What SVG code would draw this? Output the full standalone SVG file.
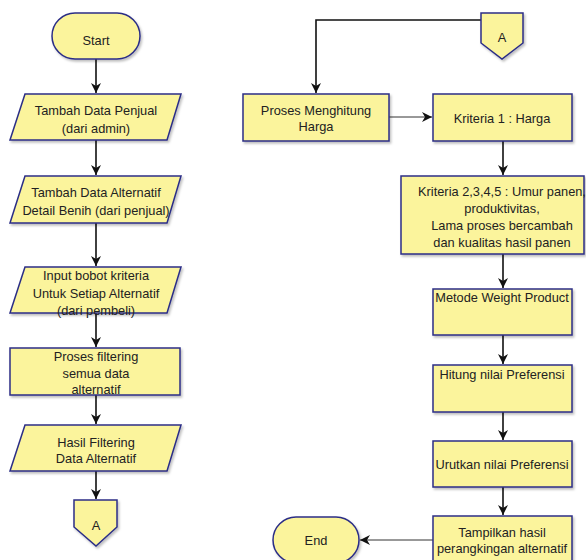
<svg xmlns="http://www.w3.org/2000/svg" width="586" height="560" viewBox="0 0 586 560">
<style>
.n{fill:#FBF49C;stroke:#2B2D86;stroke-width:1.5;filter:url(#sh)}
.t{font-family:"Liberation Sans",Arial,sans-serif;font-size:12.8px;fill:#222;text-anchor:middle}
.c{fill:none;stroke:#111;stroke-width:1.6}
.c2{fill:none;stroke:#333;stroke-width:1}
</style>
<defs>
<filter id="sh" x="-10%" y="-10%" width="130%" height="140%">
<feDropShadow dx="1.5" dy="2" stdDeviation="1.2" flood-color="#000" flood-opacity="0.25"/>
</filter>
<marker id="ah" viewBox="0 0 10 10" refX="10" refY="5" markerWidth="10" markerHeight="10" markerUnits="userSpaceOnUse" orient="auto">
<path d="M0,0 L10,5 L0,10 L3,5 z" fill="#111"/>
</marker>
</defs>
<rect width="586" height="560" fill="#fff"/>
<g id="connectors">
<line class="c" x1="96" y1="59" x2="96" y2="93" marker-end="url(#ah)"/>
<line class="c" x1="96" y1="140" x2="96" y2="175" marker-end="url(#ah)"/>
<line class="c" x1="96" y1="223" x2="96" y2="266" marker-end="url(#ah)"/>
<line class="c" x1="96" y1="313" x2="96" y2="347" marker-end="url(#ah)"/>
<line class="c" x1="96" y1="395" x2="96" y2="424" marker-end="url(#ah)"/>
<line class="c" x1="96" y1="471" x2="96" y2="499" marker-end="url(#ah)"/>
<polyline class="c" points="481,20 316,20 316,93" marker-end="url(#ah)"/>
<line class="c2" x1="389" y1="117" x2="432" y2="117" marker-end="url(#ah)"/>
<line class="c" x1="503" y1="141" x2="503" y2="175" marker-end="url(#ah)"/>
<line class="c" x1="503" y1="254" x2="503" y2="288" marker-end="url(#ah)"/>
<line class="c" x1="503" y1="335" x2="503" y2="364" marker-end="url(#ah)"/>
<line class="c" x1="503" y1="412" x2="503" y2="440" marker-end="url(#ah)"/>
<line class="c" x1="503" y1="487" x2="503" y2="515" marker-end="url(#ah)"/>
<line class="c2" x1="433" y1="540" x2="360" y2="540" marker-end="url(#ah)"/>
</g>
<g id="start">
<rect class="n" x="52" y="13" width="88" height="46" rx="23"/>
<text class="t" x="96" y="44.5">Start</text>
</g>
<g id="tambah-penjual">
<polygon class="n" points="25,94 181,94 167,140 10,140"/>
<text class="t" x="96" y="114.5">Tambah Data Penjual</text>
<text class="t" x="96" y="132.5">(dari admin)</text>
</g>
<g id="tambah-alternatif">
<polygon class="n" points="25,176 181,176 167,223 10,223"/>
<text class="t" x="96" y="196.5">Tambah Data Alternatif</text>
<text class="t" x="96" y="214.5">Detail Benih (dari penjual)</text>
</g>
<g id="input-bobot">
<polygon class="n" points="25,267 181,267 167,313 10,313"/>
<text class="t" x="96" y="279.5">Input bobot kriteria</text>
<text class="t" x="96" y="297.5">Untuk Setiap Alternatif</text>
<text class="t" x="96" y="314.5">(dari pembeli)</text>
</g>
<g id="proses-filtering">
<rect class="n" x="10" y="348" width="170" height="47"/>
<text class="t" x="96" y="361">Proses filtering</text>
<text class="t" x="96" y="377.5">semua data</text>
<text class="t" x="96" y="394">alternatif</text>
</g>
<g id="hasil-filtering">
<polygon class="n" points="25,425 181,425 167,471 10,471"/>
<text class="t" x="96" y="446.5">Hasil Filtering</text>
<text class="t" x="96" y="462.5">Data Alternatif</text>
</g>
<g id="connector-a-out">
<polygon class="n" points="74,500 117,500 117,527 96,546 74,527"/>
<text class="t" x="96" y="529.5">A</text>
</g>
<g id="connector-a-in">
<polygon class="n" points="481,13 523,13 523,43 502,59 481,43"/>
<text class="t" x="502" y="41.5">A</text>
</g>
<g id="proses-harga">
<rect class="n" x="243" y="94" width="146" height="47"/>
<text class="t" x="316" y="114.5">Proses Menghitung</text>
<text class="t" x="316" y="131">Harga</text>
</g>
<g id="kriteria1">
<rect class="n" x="433" y="94" width="139" height="47"/>
<text class="t" x="502" y="122.5">Kriteria 1 : Harga</text>
</g>
<g id="kriteria2">
<rect class="n" x="401" y="176" width="183" height="78"/>
<text class="t" x="502" y="195.5">Kriteria 2,3,4,5 : Umur panen,</text>
<text class="t" x="502" y="212.5">produktivitas,</text>
<text class="t" x="502" y="229.5">Lama proses bercambah</text>
<text class="t" x="502" y="246.5">dan kualitas hasil panen</text>
</g>
<g id="metode-wp">
<rect class="n" x="433" y="289" width="139" height="46"/>
<text class="t" x="502" y="301.5">Metode Weight Product</text>
</g>
<g id="hitung-preferensi">
<rect class="n" x="433" y="365" width="139" height="47"/>
<text class="t" x="502" y="378.5">Hitung nilai Preferensi</text>
</g>
<g id="urutkan-preferensi">
<rect class="n" x="433" y="441" width="139" height="46"/>
<text class="t" x="502" y="469">Urutkan nilai Preferensi</text>
</g>
<g id="tampilkan-hasil">
<rect class="n" x="433" y="516" width="139" height="48"/>
<text class="t" x="502" y="536.5">Tampilkan hasil</text>
<text class="t" x="502" y="553">perangkingan alternatif</text>
</g>
<g id="end">
<rect class="n" x="273" y="517" width="86" height="46" rx="23"/>
<text class="t" x="316" y="544.5">End</text>
</g>
</svg>
